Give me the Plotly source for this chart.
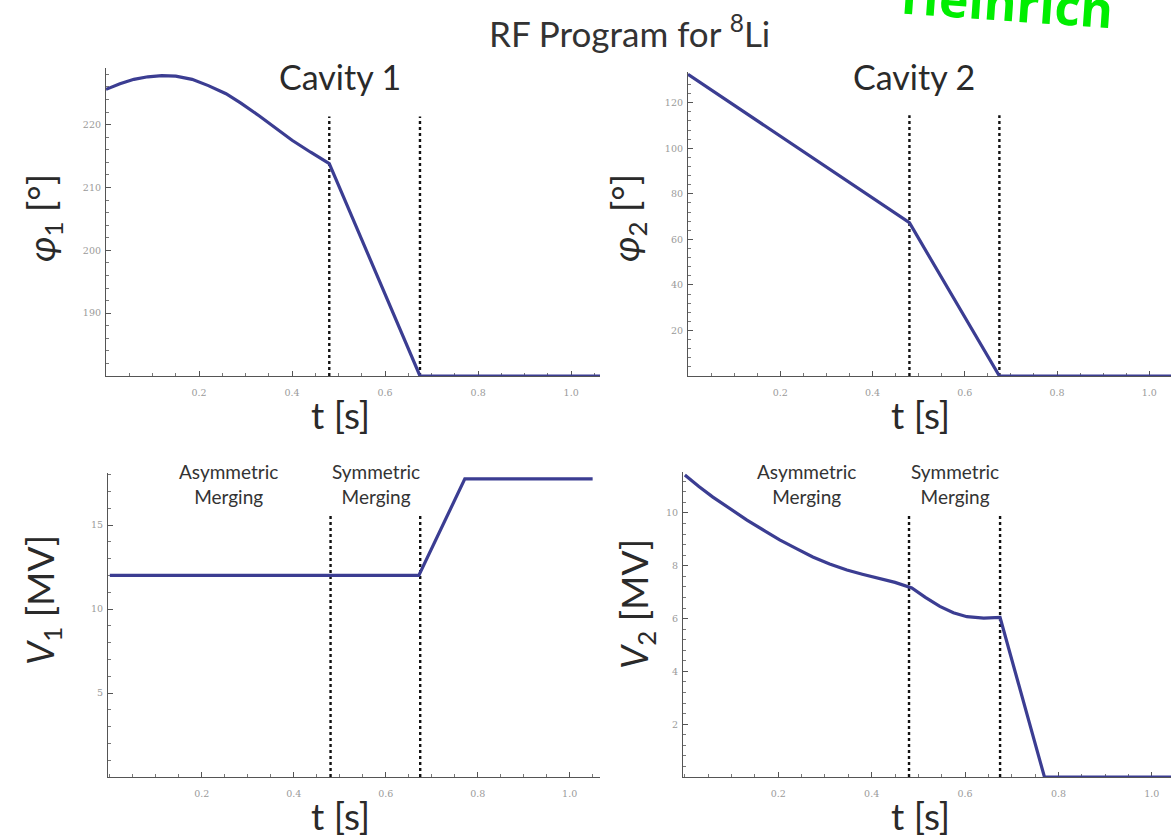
import plotly.graph_objects as go

W, H = 1171, 837

# ---------------- data ----------------
t_phi1 = [0.0, 0.03, 0.06, 0.09, 0.12, 0.15, 0.185, 0.22, 0.258, 0.29, 0.329, 0.365, 0.40, 0.44, 0.48,
          0.675, 1.062]
phi1 = [225.6, 226.5, 227.2, 227.6, 227.8, 227.7, 227.2, 226.2, 224.9, 223.4, 221.4, 219.5, 217.5, 215.6,
        213.8, 180.0, 180.0]

t_phi2 = [0.0, 0.12, 0.24, 0.36, 0.48, 0.675, 1.05]
phi2 = [132.5, 116.3, 100.0, 83.7, 67.3, 0.0, 0.0]

t_v1 = [0.0, 0.48, 0.672, 0.772, 1.05]
v1 = [12.0, 12.0, 12.0, 17.75, 17.75]

t_v2 = [0.0, 0.03, 0.06, 0.10, 0.133, 0.17, 0.203, 0.24, 0.274, 0.31, 0.347, 0.38, 0.418, 0.45, 0.486,
        0.515, 0.546, 0.575, 0.604, 0.64, 0.675, 0.77, 1.05]
v2 = [11.44, 11.0, 10.6, 10.12, 9.73, 9.33, 8.98, 8.64, 8.33, 8.07, 7.84, 7.68, 7.52, 7.37, 7.16,
      6.8, 6.46, 6.22, 6.07, 6.02, 6.04, 0.0, 0.0]

merge_times = [0.48, 0.675]
dash_tops = {"y": 221.3, "y2": 114.5, "y3": 15.6, "y4": 9.9}
dash_bottoms = {"y": 180, "y2": 0, "y3": 0, "y4": 0}

x_ticks = [0.2, 0.4, 0.6, 0.8, 1.0]
x_tick_text = ["0.2", "0.4", "0.6", "0.8", "1.0"]
y1_ticks = [190, 200, 210, 220]
y2_ticks = [20, 40, 60, 80, 100, 120]
y3_ticks = [5, 10, 15]
y4_ticks = [2, 4, 6, 8, 10]

line_color = "#3b3d92"

fig = go.Figure()

series = [
    (t_phi1, phi1, "x", "y"),
    (t_phi2, phi2, "x2", "y2"),
    (t_v1, v1, "x3", "y3"),
    (t_v2, v2, "x4", "y4"),
]

# dotted vertical lines
for xa, ya in [("x", "y"), ("x2", "y2"), ("x3", "y3"), ("x4", "y4")]:
    for tm in merge_times:
        fig.add_trace(go.Scatter(x=[tm, tm], y=[dash_bottoms[ya], dash_tops[ya]],
                                 xaxis=xa, yaxis=ya, mode="lines",
                                 line=dict(color="#111111", width=2.4, dash="dot"),
                                 showlegend=False, hoverinfo="skip"))

for tx, vy, xa, ya in series:
    fig.add_trace(go.Scatter(x=tx, y=vy, xaxis=xa, yaxis=ya, mode="lines", cliponaxis=False,
                             line=dict(color=line_color, width=3.2),
                             showlegend=False, hoverinfo="skip"))


def px(x):
    return x / W


def py(y):
    return 1 - y / H


tickfont = dict(size=9.5, color="#9a9a9a", family="DejaVu Serif")


def xaxis(dom, rng):
    return dict(domain=[px(dom[0]), px(dom[1])], range=rng, showgrid=False, zeroline=False,
                showline=True, linecolor="#555555", linewidth=1.2, layer="below traces",
                tickvals=x_ticks, ticktext=x_tick_text, ticks="inside", ticklen=5,
                tickcolor="#555555", tickfont=tickfont, ticklabelstandoff=7,
                minor=dict(dtick=0.05, ticks="inside", ticklen=3, tickcolor="#777777", showgrid=False),
                fixedrange=True)


def yaxis(dom, rng, ticks, minor, anchor):
    return dict(domain=[py(dom[1]), py(dom[0])], range=rng, showgrid=False, zeroline=False,
                showline=True, linecolor="#555555", linewidth=1.2, anchor=anchor, layer="below traces",
                tickvals=ticks, ticks="inside", ticklen=5, tickcolor="#555555",
                tickfont=tickfont, ticklabelstandoff=2,
                minor=dict(tick0=0, dtick=minor, ticks="inside", ticklen=3, tickcolor="#777777", showgrid=False),
                fixedrange=True)


fig.update_layout(
    width=W, height=H,
    margin=dict(l=0, r=0, t=0, b=0),
    paper_bgcolor="white", plot_bgcolor="white",
    xaxis=dict(xaxis((106, 600), [0, 1.062]), anchor="y"),
    yaxis=yaxis((68, 376), [180, 229], y1_ticks, 2, "x"),
    xaxis2=dict(xaxis((688, 1171), [0, 1.047]), anchor="y2"),
    yaxis2=yaxis((72, 376), [0, 133.5], y2_ticks, 4, "x2"),
    xaxis3=dict(xaxis((108, 600), [-0.004, 1.066]), anchor="y3"),
    yaxis3=yaxis((473, 777), [0, 18.1], y3_ticks, 1, "x3"),
    xaxis4=dict(xaxis((683, 1171), [-0.004, 1.041]), anchor="y4"),
    yaxis4=yaxis((472, 777), [0, 11.55], y4_ticks, 0.4, "x4"),
)

font_main = "Lato, Open Sans, sans-serif"
ann = []


def add_text(x, y, text, size, color="#2a2a2a", angle=0, family=font_main, **kw):
    ann.append(dict(x=px(x), y=py(y), xref="paper", yref="paper", text=text, showarrow=False,
                    font=dict(size=size, color=color, family=family), textangle=angle,
                    xanchor="center", yanchor="middle", **kw))


add_text(629, 31, "RF Program for <sup>8</sup>Li", 35, color="#333333")
add_text(340, 77, "Cavity 1", 34)
add_text(914, 77, "Cavity 2", 34)
for xx, yy in [(340, 414), (920, 414), (340, 815), (920, 815)]:
    add_text(xx, yy, "t [s]", 37)
add_text(44, 218, "<i>φ</i><sub>1</sub> [°]", 37, angle=-90)
add_text(628, 218, "<i>φ</i><sub>2</sub> [°]", 37, angle=-90)
add_text(42, 600, "<i>V</i><sub>1</sub> [MV]", 37, angle=-90)
add_text(636, 604, "<i>V</i><sub>2</sub> [MV]", 37, angle=-90)
for xx, txt in [(228, "Asymmetric<br>Merging"), (376, "Symmetric<br>Merging"),
                (806, "Asymmetric<br>Merging"), (955, "Symmetric<br>Merging")]:
    add_text(xx, 484, txt, 19, color="#333333")

# green name in corner (partially cut off at top)
add_text(1007, 2, "<b>Heinrich</b>", 50, color="#00ee00", angle=4, family="Open Sans, sans-serif")

fig.update_layout(annotations=ann)

fig.write_html("out.html", config={"displayModeBar": False},
               post_script="document.body.style.margin='0';document.body.style.overflow='hidden';"
                           "document.documentElement.style.overflow='hidden';")
